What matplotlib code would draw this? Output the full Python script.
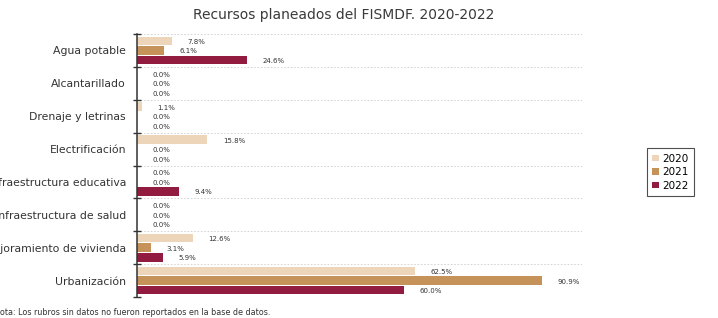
import numpy as np
import matplotlib
matplotlib.use("Agg")
import matplotlib.pyplot as plt

# Data
categories = [
    "Agua potable",
    "Alcantarillado",
    "Drenaje y letrinas",
    "Electrificación",
    "Infraestructura educativa",
    "Infraestructura de salud",
    "Mejoramiento de vivienda",
    "Urbanización",
]
years = ["2020", "2021", "2022"]
values_2020 = [7.8, 0.0, 1.1, 15.8, 0.0, 0.0, 12.6, 62.5]
values_2021 = [6.1, 0.0, 0.0, 0.0, 0.0, 0.0, 3.1, 90.9]
values_2022 = [24.6, 0.0, 0.0, 0.0, 9.4, 0.0, 5.9, 60.0]
colors = ["#ecd5b8", "#c59259", "#921c40"]

series = [values_2020, values_2021, values_2022]

plt.rcParams["font.family"] = ["DejaVu Sans"]

fig = plt.figure(figsize=(7.18, 3.18), dpi=100)
ax = fig.add_axes([0.1908, 0.066, 0.62, 0.827])

y = np.arange(len(categories))
step = 0.29
height = 0.26

for i, (vals, col, yr) in enumerate(zip(series, colors, years)):
    pos = y + (i - 1) * step
    ax.barh(pos, vals, height=height, color=col, label=yr)
    for p, v in zip(pos, vals):
        ax.text(v + 3.5, p + 0.03, f"{v:.1f}%", fontsize=5, color="#333333",
                va="center", ha="left")

ax.set_xlim(0, 100)
ax.set_ylim(len(categories) - 0.5, -0.5)

# boundaries as major ticks, category names as minor ticks
ax.set_yticks(np.arange(-0.5, len(categories), 1.0))
ax.set_yticklabels([])
ax.set_yticks(y, minor=True)
ax.set_yticklabels(categories, minor=True, fontsize=7.8, color="#333333")
ax.tick_params(axis="y", which="major", direction="inout", length=6,
               width=1.0, color="#333333")
ax.tick_params(axis="y", which="minor", length=0, pad=8)
ax.set_xticks([])

for s in ["top", "right", "bottom"]:
    ax.spines[s].set_visible(False)
ax.spines["left"].set_color("#333333")
ax.spines["left"].set_linewidth(1.1)

ax.yaxis.grid(True, which="major", linestyle=(0, (2, 2)), color="#cfcfcf",
              linewidth=0.6)
ax.set_axisbelow(True)

fig.text(0.478, 0.975, "Recursos planeados del FISMDF. 2020-2022",
         ha="center", va="top", fontsize=10, color="#3a3a3a")

fig.text(-0.009, 0.018,
         "Nota: Los rubros sin datos no fueron reportados en la base de datos.",
         ha="left", va="center", fontsize=5.8, color="#333333")

leg = ax.legend(loc="upper left", bbox_to_anchor=(0.894, 0.55),
                bbox_transform=fig.transFigure, fontsize=7.5, frameon=True,
                fancybox=False, handlelength=0.6, handleheight=0.6,
                handletextpad=0.4, labelspacing=0.35, borderpad=0.5)
leg.get_frame().set_edgecolor("#222222")
leg.get_frame().set_linewidth(0.8)

fig.savefig("out.png", dpi=100)
